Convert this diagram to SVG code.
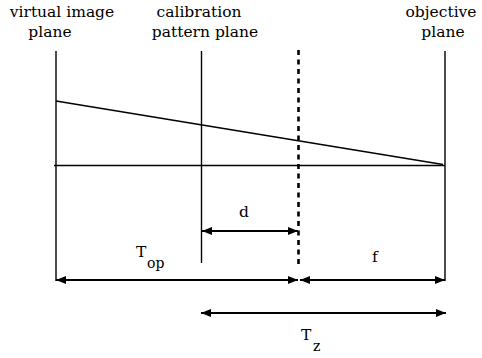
<svg xmlns="http://www.w3.org/2000/svg" width="482" height="358" viewBox="0 0 482 358">
<style>
text{font-family:'DejaVu Serif',serif;font-size:15.5px;fill:#000}
.sub{font-size:14px}
.thin{stroke:#000;stroke-width:1.4;fill:none}
.dash{stroke:#000;stroke-width:2.6;stroke-dasharray:5 4.5;fill:none}
.dim{stroke:#000;stroke-width:2.2;fill:none;marker-start:url(#ah);marker-end:url(#ah)}
</style>
<defs>
<marker id="ah" viewBox="0 0 10 8" refX="10" refY="4" markerWidth="10" markerHeight="8" markerUnits="userSpaceOnUse" orient="auto-start-reverse">
<path d="M0,0 L10,4 L0,8 Z" fill="#000"/>
</marker>
</defs>
<rect width="482" height="358" fill="#fff"/>
<g id="virtual-image-plane">
<line class="thin" x1="56" y1="51" x2="56" y2="281"/>
<text x="62" y="17" text-anchor="middle">virtual image</text>
<text x="50" y="37" text-anchor="middle">plane</text>
</g>
<g id="calibration-pattern-plane">
<line class="thin" x1="201.5" y1="51" x2="201.5" y2="263"/>
<text x="199" y="17" text-anchor="middle">calibration</text>
<text x="205" y="37" text-anchor="middle">pattern plane</text>
</g>
<g id="dashed-plane">
<line class="dash" x1="298.5" y1="50" x2="298.5" y2="264"/>
</g>
<g id="objective-plane">
<line class="thin" x1="445" y1="51" x2="445" y2="281"/>
<text x="441" y="17" text-anchor="middle">objective</text>
<text x="443" y="37" text-anchor="middle">plane</text>
</g>
<g id="axis">
<line class="thin" x1="54" y1="165.5" x2="445" y2="165.5"/>
<line class="thin" x1="56" y1="101" x2="443" y2="164.5"/>
</g>
<g id="connectors">
<line class="dim" x1="202" y1="231" x2="298" y2="231"/>
<line class="dim" x1="56" y1="280" x2="298" y2="280"/>
<line class="dim" x1="300" y1="280" x2="445" y2="280"/>
<line class="dim" x1="201" y1="313" x2="446" y2="313"/>
</g>
<g id="labels">
<text x="239" y="217">d</text>
<text x="136" y="257">T</text>
<text class="sub" x="147" y="268">op</text>
<text x="372" y="262">f</text>
<text x="301" y="340">T</text>
<text class="sub" x="313" y="351">z</text>
</g>
</svg>
